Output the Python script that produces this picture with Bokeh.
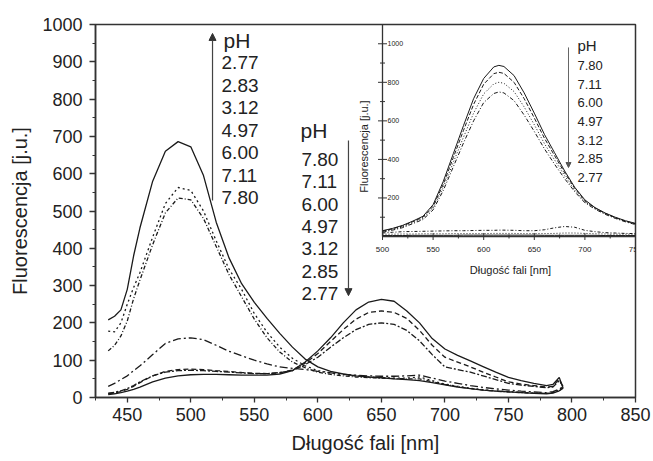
import numpy as np
from bokeh.plotting import figure
from bokeh.models import Range1d, SingleIntervalTicker, Arrow, NormalHead
from bokeh.core.properties import value
from bokeh.embed import file_html
from bokeh.resources import INLINE

# ---------------- data (main emission spectra) ----------------
wavelength = [435, 440, 445, 450, 455, 460, 470, 480, 490, 500, 510, 520, 530, 540, 550,
              560, 570, 580, 590, 600, 610, 620, 630, 640, 650, 660, 670, 680, 690, 700,
              710, 720, 730, 740, 750, 760, 770, 780, 785, 790, 793]
ph_2_77 = [208, 218, 235, 290, 380, 455, 580, 660, 686, 672, 595, 470, 375, 305, 255, 212, 172,
           135, 103, 82, 70, 63, 58, 55, 53, 50, 48, 45, 40, 34, 28, 24, 20, 17, 15, 13, 11, 10,
           12, 18, 25]
ph_2_83 = [178, 176, 200, 250, 295, 335, 430, 520, 563, 555, 500, 420, 345, 290, 225, 175, 135,
           105, 85, 72, 66, 62, 58, 55, 53, 52, 52, 55, 45, 36, 30, 25, 21, 18, 16, 14, 12, 11,
           14, 20, 30]
ph_3_12 = [125, 140, 165, 205, 265, 315, 410, 495, 535, 530, 480, 405, 330, 270, 210, 160, 122,
           95, 80, 68, 62, 58, 55, 53, 52, 51, 50, 50, 42, 35, 29, 24, 20, 17, 15, 13, 12, 11,
           13, 18, 26]
ph_4_97 = [30, 38, 48, 58, 72, 85, 115, 145, 157, 160, 155, 140, 124, 112, 100, 90, 82, 78, 75,
           70, 66, 62, 60, 58, 57, 57, 58, 60, 52, 44, 38, 32, 27, 23, 20, 17, 15, 13, 16, 22, 30]
ph_6_00 = [12, 14, 18, 24, 32, 42, 58, 68, 72, 73, 72, 70, 68, 66, 64, 64, 67, 72, 88, 108, 135,
           160, 182, 196, 200, 196, 180, 152, 115, 82, 75, 68, 58, 48, 38, 33, 30, 26, 28, 45, 30]
ph_7_11 = [10, 12, 16, 22, 30, 40, 58, 70, 75, 76, 75, 72, 70, 67, 65, 64, 66, 74, 92, 118, 150,
           182, 210, 228, 232, 228, 212, 180, 140, 108, 95, 82, 68, 55, 42, 36, 32, 28, 30, 50, 28]
ph_7_80 = [8, 10, 13, 17, 22, 28, 42, 52, 58, 61, 62, 62, 61, 60, 60, 60, 63, 72, 95, 125, 160,
           200, 235, 256, 263, 258, 232, 200, 158, 130, 113, 98, 83, 68, 54, 45, 38, 32, 35, 54, 25]

# ---------------- data (inset) ----------------
inset_wavelength = [500, 510, 520, 530, 540, 550, 560, 570, 580, 590, 600, 610, 615, 620, 630,
                    640, 650, 660, 670, 680, 690, 700, 710, 720, 730, 740, 750]
inset_7_80 = [30, 42, 58, 80, 105, 165, 285, 430, 575, 715, 820, 880, 888, 882, 835, 745, 640,
              530, 435, 340, 255, 190, 150, 122, 100, 82, 68]
inset_7_11 = [28, 40, 55, 77, 100, 157, 270, 410, 550, 685, 790, 845, 852, 846, 800, 715, 615,
              510, 420, 330, 250, 185, 148, 120, 98, 80, 66]
inset_6_00 = [25, 36, 50, 72, 94, 148, 254, 385, 515, 640, 740, 792, 800, 795, 752, 672, 580,
              482, 398, 315, 240, 180, 145, 118, 96, 78, 64]
inset_4_97 = [22, 33, 46, 67, 88, 138, 238, 362, 485, 600, 695, 742, 750, 745, 705, 630, 545,
              455, 375, 300, 232, 175, 142, 115, 94, 76, 62]
inset_3_12 = [18, 22, 25, 26, 27, 28, 29, 30, 30, 31, 32, 32, 33, 33, 32, 30, 30, 35, 45, 52,
              48, 32, 25, 20, 18, 16, 15]
inset_2_85 = [12, 12, 13, 13, 14, 14, 14, 15, 15, 15, 15, 16, 16, 16, 16, 15, 15, 15, 16, 18,
              18, 16, 14, 13, 12, 12, 12]
inset_2_77 = [5, 5, 5, 6, 6, 6, 6, 6, 7, 7, 7, 7, 7, 7, 7, 7, 7, 6, 6, 6, 6, 6, 6, 5, 5, 5, 5]

ph_up_labels = ["2.77", "2.83", "3.12", "4.97", "6.00", "7.11", "7.80"]
ph_down_labels = ["7.80", "7.11", "6.00", "4.97", "3.12", "2.85", "2.77"]
inset_ph_labels = ["7.80", "7.11", "6.00", "4.97", "3.12", "2.85", "2.77"]

x_ticks_inset = [500, 550, 600, 650, 700, 750]
x_minor_inset = [525, 575, 625, 675, 725]
y_ticks_inset = [200, 400, 600, 800, 1000]
y_minor_inset = [100, 300, 500, 700, 900, 1100]
y_tick_labels_inset = ["200", "400", "600", "800", "1000"]
x_tick_labels_inset = ["500", "550", "600", "650", "700", "750"]

# ---------------- figure ----------------
FONT = value("Liberation Sans")
INK = "#1a1a1a"
TXT = "#222222"

p = figure(width=653, height=461, x_range=Range1d(425, 850), y_range=Range1d(0, 1000),
           output_backend="svg", toolbar_location=None,
           min_border_left=95, min_border_right=18, min_border_top=24, min_border_bottom=64)
p.extra_x_ranges = {"ix": Range1d(216.4, 750)}
p.extra_y_ranges = {"iy": Range1d(-835.4, 1100)}

p.grid.visible = False
p.outline_line_color = "#333333"
p.outline_line_width = 1.5
p.background_fill_color = "white"

p.xaxis.ticker = SingleIntervalTicker(interval=50, num_minor_ticks=2)
p.yaxis.ticker = SingleIntervalTicker(interval=100, num_minor_ticks=2)
for ax in (p.xaxis, p.yaxis):
    ax.axis_line_color = "#333333"
    ax.axis_line_width = 1.5
    ax.major_tick_line_color = "#333333"
    ax.major_tick_line_width = 1.3
    ax.minor_tick_line_color = "#333333"
    ax.major_tick_out = 6
    ax.major_tick_in = 0
    ax.minor_tick_out = 3
    ax.minor_tick_in = 0
    ax.major_label_text_font = "Liberation Sans"
    ax.major_label_text_font_size = "18px"
    ax.major_label_text_color = TXT
    ax.axis_label_text_font = "Liberation Sans"
    ax.axis_label_text_font_size = "20px"
    ax.axis_label_text_font_style = "normal"
    ax.axis_label_text_color = TXT

p.xaxis.axis_label = "Długość fali [nm]"
p.yaxis.axis_label = "Fluorescencja [j.u.]"
p.xaxis.major_tick_out = 5
p.xaxis.major_label_standoff = 5
p.xaxis.axis_label_standoff = 8
p.yaxis.major_label_standoff = 7
p.yaxis.axis_label_standoff = 8

# main curves
main_series = [ph_2_77, ph_2_83, ph_3_12, ph_4_97, ph_6_00, ph_7_11, ph_7_80]
main_dash = ["solid", "2 3", "4 2 1 2", "8 3 2 3", "6 2 2 2", "5 3", "solid"]
for ys, dash in zip(main_series, main_dash):
    p.line(wavelength, ys, line_color=INK, line_width=1.3, line_dash=dash)

# main annotations (pH lists with arrows)
p.text(x=[525.7], y=[957], text=["pH"], text_font=FONT, text_font_size=value("21px"),
       text_color=TXT, text_baseline="middle", text_align="left")
p.text(x=[524.2] * 7, y=[898 - i * 60.3 for i in range(7)], text=ph_up_labels, text_font=FONT,
       text_font_size=value("19px"), text_color=TXT, text_baseline="middle", text_align="left")
p.add_layout(Arrow(end=NormalHead(size=7, fill_color="#333333", line_color="#333333"),
                   x_start=517.1, y_start=528, x_end=517.1, y_end=976,
                   line_color="#444444", line_width=1.2))

p.text(x=[586.3], y=[716], text=["pH"], text_font=FONT, text_font_size=value("21px"),
       text_color=TXT, text_baseline="middle", text_align="left")
p.text(x=[587.1] * 7, y=[638 - i * 59.8 for i in range(7)], text=ph_down_labels, text_font=FONT,
       text_font_size=value("19px"), text_color=TXT, text_baseline="middle", text_align="left")
p.add_layout(Arrow(end=NormalHead(size=7, fill_color="#333333", line_color="#333333"),
                   x_start=624.1, y_start=689, x_end=624.1, y_end=273,
                   line_color="#444444", line_width=1.2))

# ---------------- inset (drawn on its own ranges) ----------------
R = dict(x_range_name="ix", y_range_name="iy")
inset_series = [inset_7_80, inset_7_11, inset_6_00, inset_4_97, inset_3_12, inset_2_85, inset_2_77]
inset_dash = ["solid", "4 2", "1 2", "4 2 1 2", "3 2 1 2", "1 2", "solid"]
for ys, dash in zip(inset_series, inset_dash):
    p.line(inset_wavelength, ys, line_color=INK, line_width=1.0, line_dash=dash, **R)

# inset axis lines
p.segment(x0=[x_ticks_inset[0]], y0=[0], x1=[x_ticks_inset[0]], y1=[1100],
          line_color="#333333", line_width=1.3, **R)
p.segment(x0=[x_ticks_inset[0]], y0=[0], x1=[x_ticks_inset[-1]], y1=[0],
          line_color="#333333", line_width=1.3, **R)
# inset ticks
p.scatter(x=[x_ticks_inset[0]] * len(y_ticks_inset), y=y_ticks_inset, marker="dash", size=9,
          line_color="#333333", line_width=1, **R)
p.scatter(x=[x_ticks_inset[0]] * len(y_minor_inset), y=y_minor_inset, marker="dash", size=5,
          line_color="#333333", line_width=1, **R)
p.scatter(x=x_ticks_inset, y=[0] * len(x_ticks_inset), marker="dash", size=7, angle=np.pi / 2,
          line_color="#333333", line_width=1, **R)
p.scatter(x=x_minor_inset, y=[0] * len(x_minor_inset), marker="dash", size=4, angle=np.pi / 2,
          line_color="#333333", line_width=1, **R)
# inset tick labels
p.text(x=[x_ticks_inset[0]] * len(y_ticks_inset), y=y_ticks_inset, text=y_tick_labels_inset,
       x_offset=5, text_font=FONT, text_font_size=value("7px"), text_color=TXT,
       text_baseline="middle", text_align="left", **R)
p.text(x=x_ticks_inset, y=[0] * len(x_ticks_inset), text=x_tick_labels_inset, y_offset=13,
       text_font=FONT, text_font_size=value("8px"), text_color=TXT,
       text_baseline="middle", text_align="center", **R)
# inset axis titles
p.text(x=[626.5], y=[0], text=["Długość fali [nm]"], y_offset=34, text_font=FONT,
       text_font_size=value("11px"), text_color=TXT, text_baseline="middle",
       text_align="center", **R)
p.text(x=[500], y=[467], text=["Fluorescencja [j.u.]"], x_offset=-19, angle=np.pi / 2,
       text_font=FONT, text_font_size=value("11px"), text_color=TXT, text_baseline="middle",
       text_align="center", **R)
# inset pH list
p.text(x=[692.7], y=[991], text=["pH"], text_font=FONT, text_font_size=value("15px"),
       text_color=TXT, text_baseline="middle", text_align="left", **R)
p.text(x=[692.7] * 7, y=[887 - i * 96.8 for i in range(7)], text=inset_ph_labels, text_font=FONT,
       text_font_size=value("13px"), text_color=TXT, text_baseline="middle", text_align="left", **R)
p.add_layout(Arrow(end=NormalHead(size=5, fill_color="#555555", line_color="#555555"),
                   x_start=683.8, y_start=981, x_end=683.8, y_end=358,
                   line_color="#666666", line_width=1.0, **R))

open("out.html", "w").write(file_html(p, INLINE))
